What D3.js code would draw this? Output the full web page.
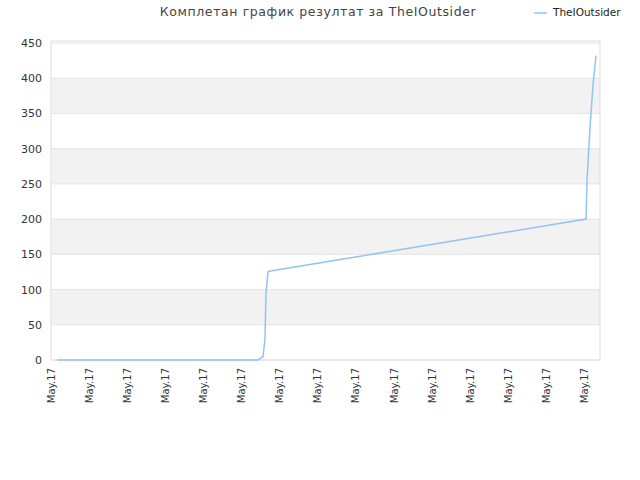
<!DOCTYPE html><html><head><meta charset="utf-8"><script src="https://d3js.org/d3.v7.min.js"></script>
<style>body{margin:0;background:#fff}text{font-family:"DejaVu Sans",sans-serif}</style></head><body>
<svg id="c" width="640" height="480"></svg>
<script>
const xs=[6,207,212,214,215,217,218,535,536,539,542,545];
const ys=[0,0,5,30,95,125,126,200,255,330,390,432];
const yTicks=[0,50,100,150,200,250,300,350,400,450];
const xTickPos=[0,38,76,114,152,190,228,266,304,343,381,419,457,495,533];
const xLabel="May.17";
const seriesName="TheIOutsider";
const title="Комплетан график резултат за TheIOutsider";
const svg=d3.select("#c");
const L=51,R=600,T=41,B=360;
const x=d3.scaleLinear().domain([0,549]).range([L,R]);
const y=d3.scaleLinear().domain([0,450]).range([B,B-450*0.7045]);
for(let i=0;i<yTicks.length-1;i++){
 if(i%2==1) svg.append("rect").attr("x",L).attr("width",R-L).attr("y",y(yTicks[i+1])).attr("height",y(yTicks[i])-y(yTicks[i+1])).attr("fill","#f2f2f2");
}
svg.append("rect").attr("x",L).attr("y",T).attr("width",R-L).attr("height",B-T).attr("fill","none").attr("stroke","#ddd");
yTicks.forEach(t=>{svg.append("line").attr("x1",L).attr("x2",R).attr("y1",y(t)).attr("y2",y(t)).attr("stroke","#e4e4e4");
 svg.append("text").attr("x",L-9).attr("y",y(t)+4).attr("text-anchor","end").attr("font-size",11).attr("fill","#333").text(t);});
xTickPos.forEach(p=>{svg.append("text").attr("transform",`translate(${x(p)+4},${B+8}) rotate(-90)`).attr("text-anchor","end").attr("font-size",10).attr("fill","#333").text(xLabel);});
svg.append("path").datum(xs.map((v,i)=>[v,ys[i]])).attr("d",d3.line().x(d=>x(d[0])).y(d=>y(d[1]))).attr("fill","none").attr("stroke","#90c4f5").attr("stroke-width",1.5);
svg.append("text").attr("x",318).attr("y",16).attr("text-anchor","middle").attr("font-size",12.5).attr("letter-spacing",0.6).attr("fill","#444").text(title);
svg.append("line").attr("x1",534).attr("x2",547).attr("y1",13).attr("y2",13).attr("stroke","#90c4f5").attr("stroke-width",1.5);
svg.append("text").attr("x",553).attr("y",16).attr("font-size",10.5).attr("fill","#222").text(seriesName);
</script></body></html>
